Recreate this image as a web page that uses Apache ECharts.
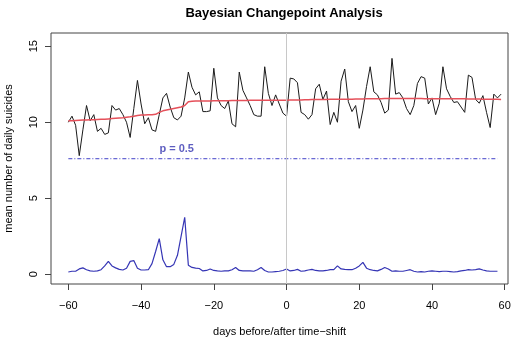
<!DOCTYPE html>
<html>
<head>
<meta charset="utf-8">
<script src="https://cdn.jsdelivr.net/npm/echarts@6/dist/echarts.min.js"></script>
<style>
  html, body { margin: 0; padding: 0; background: #fff; }
  #chart { width: 520px; height: 338px; }
</style>
</head>
<body>
<div id="chart"></div>
<script>
// Days relative to the time shift
const days = [];
for (let d = -60; d <= 59; d++) days.push(d);

// Observed mean number of daily suicides, one value per day (-60 .. 59)
const observed = [
  10.0, 10.4, 9.8, 7.8, 9.5, 11.1, 10.1, 10.5, 9.4, 9.6,
  9.2, 9.3, 11.1, 10.8, 10.9, 10.5, 10.0, 9.0, 10.9, 12.75,
  11.2, 9.9, 10.3, 9.5, 9.4, 10.5, 11.6, 11.9, 11.0, 10.3,
  10.15, 10.4, 11.6, 13.3, 12.3, 11.8, 12.0, 10.7, 10.7, 10.75,
  13.55, 11.6, 11.1, 10.9, 11.4, 9.9, 9.7, 13.3, 12.1, 11.6,
  11.1, 10.5, 10.4, 10.4, 13.65, 11.9, 11.1, 11.8, 11.2, 10.6,
  10.4, 12.9, 12.85, 12.6, 10.65, 10.5, 10.2, 10.5, 12.2, 12.5,
  11.5, 12.05, 9.85, 10.65, 10.0, 12.7, 13.5, 11.35, 10.7, 11.1,
  9.6, 10.8, 12.35, 13.65, 12.0, 11.8, 11.3, 10.6, 10.8, 14.2,
  11.85, 11.95, 11.6, 10.9, 10.5, 11.1, 12.55, 13.0, 12.9, 11.2,
  11.6, 10.5, 11.25, 13.65, 12.2, 11.7, 11.3, 11.35, 11.0, 10.65,
  13.1, 12.95, 11.5, 11.25, 11.75, 10.65, 9.65, 11.85, 11.6, 11.85
];

// Posterior mean of the daily rate (-60 .. 59)
const posteriorMean = [
  10.1, 10.1, 10.12, 10.13, 10.14, 10.15, 10.16, 10.17, 10.18, 10.19,
  10.2, 10.22, 10.24, 10.26, 10.28, 10.3, 10.33, 10.36, 10.4, 10.45,
  10.47, 10.48, 10.5, 10.5, 10.52, 10.65, 10.75, 10.8, 10.85, 10.9,
  10.95, 11.0, 11.1, 11.35, 11.38, 11.4, 11.4, 11.4, 11.4, 11.4,
  11.42, 11.42, 11.42, 11.42, 11.42, 11.43, 11.43, 11.43, 11.43, 11.43,
  11.44, 11.44, 11.44, 11.44, 11.44, 11.45, 11.45, 11.45, 11.45, 11.45,
  11.45, 11.46, 11.46, 11.47, 11.47, 11.48, 11.48, 11.49, 11.49, 11.5,
  11.5, 11.5, 11.51, 11.51, 11.51, 11.52, 11.52, 11.52, 11.52, 11.53,
  11.53, 11.53, 11.54, 11.54, 11.55, 11.55, 11.55, 11.56, 11.56, 11.56,
  11.56, 11.56, 11.56, 11.56, 11.56, 11.56, 11.56, 11.56, 11.55, 11.55,
  11.55, 11.55, 11.55, 11.55, 11.55, 11.54, 11.54, 11.54, 11.54, 11.54,
  11.53, 11.53, 11.53, 11.53, 11.52, 11.52, 11.52, 11.51, 11.51, 11.5
];

// Posterior probability of a change point (scaled, percent), days -60 .. 58
const changeProb = [
  0.15, 0.2, 0.2, 0.35, 0.42, 0.3, 0.22, 0.2, 0.22, 0.3,
  0.55, 0.85, 0.55, 0.42, 0.32, 0.28, 0.4, 0.85, 0.9, 0.4,
  0.28, 0.28, 0.3, 0.7, 1.5, 2.35, 0.95, 0.5, 0.5, 0.65,
  1.25, 2.5, 3.75, 0.6, 0.45, 0.4, 0.38, 0.22, 0.25, 0.35,
  0.25, 0.22, 0.2, 0.22, 0.22, 0.3, 0.45, 0.25, 0.22, 0.22,
  0.22, 0.2, 0.3, 0.45, 0.25, 0.15, 0.15, 0.18, 0.2, 0.25,
  0.35, 0.22, 0.25, 0.32, 0.2, 0.22, 0.28, 0.32, 0.25, 0.22,
  0.22, 0.25, 0.3, 0.3, 0.55, 0.35, 0.32, 0.3, 0.3, 0.4,
  0.55, 0.78, 0.4, 0.3, 0.25, 0.22, 0.32, 0.45, 0.35, 0.2,
  0.22, 0.2, 0.2, 0.25, 0.3, 0.2, 0.15, 0.18, 0.15, 0.2,
  0.22, 0.2, 0.18, 0.2, 0.2, 0.18, 0.15, 0.18, 0.22, 0.25,
  0.3, 0.28, 0.3, 0.35, 0.28, 0.22, 0.2, 0.2, 0.2
];

// Reference level for p = 0.5 and its label
const thresholdLevel = 7.6;
const thresholdSpan = [-60, 58];
const thresholdLabel = 'p = 0.5';
const labelAt = [-30.2, 8.25];

// Axis ticks
const xTicks = [-60, -40, -20, 0, 20, 40, 60];
const yTicks = [0, 5, 10, 15];

const FONT = '"Liberation Sans", Arial, Helvetica, sans-serif';
const fmtNum = v => (v < 0 ? '\u2212' + Math.abs(v) : String(v));

const chart = echarts.init(document.getElementById('chart'), null, { renderer: 'canvas' });

chart.setOption({
  animation: false,
  backgroundColor: '#ffffff',
  textStyle: { fontFamily: FONT },
  title: {
    text: 'Bayesian Changepoint Analysis',
    left: 279, top: 2, textAlign: 'center',
    textStyle: { fontFamily: FONT, fontSize: 13, fontWeight: 'bold', color: '#000' }
  },
  grid: {
    left: 51, right: 12, top: 33, bottom: 54,
    outerBoundsMode: 'none', containLabel: false,
    show: true, borderColor: '#444', borderWidth: 1, backgroundColor: 'transparent'
  },
  xAxis: {
    type: 'value',
    min: -64.77, max: 60.9,
    name: 'days before/after time\u2212shift',
    nameLocation: 'middle', nameGap: 42,
    nameTextStyle: { fontFamily: FONT, fontSize: 11, color: '#000' },
    axisLine: { show: false, onZero: false },
    splitLine: { show: false },
    axisTick: { show: true, length: 6, customValues: xTicks, lineStyle: { color: '#444' } },
    axisLabel: { customValues: xTicks, formatter: fmtNum, margin: 16, fontSize: 11, color: '#000', fontFamily: FONT }
  },
  yAxis: {
    type: 'value',
    min: -0.64, max: 15.87,
    name: 'mean number of daily suicides',
    nameLocation: 'middle', nameGap: 37, nameRotate: 90,
    nameTextStyle: { fontFamily: FONT, fontSize: 11, color: '#000' },
    axisLine: { show: false, onZero: false },
    splitLine: { show: false },
    axisTick: { show: true, length: 6, customValues: yTicks, lineStyle: { color: '#444' } },
    axisLabel: { customValues: yTicks, rotate: 90, margin: 12, fontSize: 11, color: '#000', fontFamily: FONT }
  },
  series: [
    {
      // vertical marker at the time shift
      type: 'line', data: [], silent: true,
      markLine: {
        symbol: 'none', silent: true, label: { show: false },
        lineStyle: { color: '#c8c8c8', width: 1, type: 'solid' },
        data: [{ xAxis: 0 }]
      }
    },
    {
      name: 'threshold', type: 'line', showSymbol: false, silent: true,
      data: thresholdSpan.map(d => [d, thresholdLevel]),
      lineStyle: { color: '#4040c8', width: 1, type: [4, 2, 1, 2] }
    },
    {
      name: 'observed', type: 'line', showSymbol: false, silent: true,
      data: days.map((d, i) => [d, observed[i]]),
      lineStyle: { color: '#1a1a1a', width: 1 }
    },
    {
      name: 'posterior mean', type: 'line', showSymbol: false, silent: true,
      data: days.map((d, i) => [d, posteriorMean[i]]),
      lineStyle: { color: '#e5505a', width: 1.5 }
    },
    {
      name: 'change probability', type: 'line', showSymbol: false, silent: true,
      data: changeProb.map((v, i) => [days[i], v]),
      lineStyle: { color: '#3535b5', width: 1.2 }
    },
    {
      type: 'scatter', symbolSize: 0, silent: true,
      data: [labelAt],
      label: {
        show: true, position: 'inside', formatter: thresholdLabel,
        fontFamily: FONT, fontSize: 11, fontWeight: 'bold', color: '#3535b0'
      }
    }
  ]
});
</script>
</body>
</html>
